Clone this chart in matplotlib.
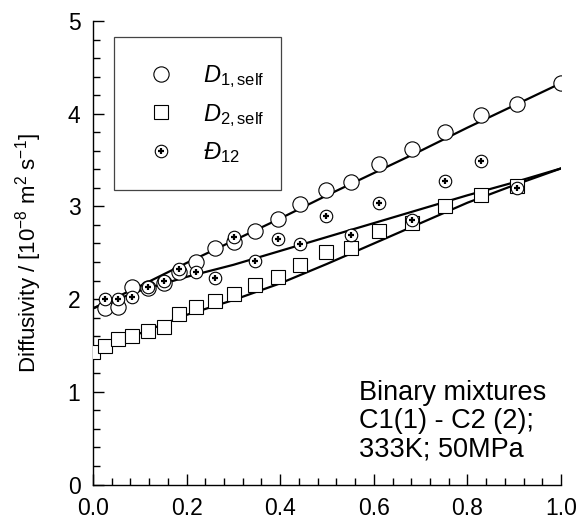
import numpy as np
import matplotlib
matplotlib.use('Agg')
import matplotlib.pyplot as plt
from matplotlib.legend_handler import HandlerTuple
from matplotlib.patches import Rectangle

plt.rcParams['font.family'] = ['Liberation Sans', 'DejaVu Sans']
plt.rcParams['mathtext.fontset'] = 'custom'
plt.rcParams['mathtext.rm'] = 'Liberation Sans'
plt.rcParams['mathtext.it'] = 'Liberation Sans:italic'
plt.rcParams['mathtext.bf'] = 'Liberation Sans:bold'

# mole fraction of component 1
x_all = [0.0, 0.026, 0.053, 0.083, 0.117, 0.151, 0.184, 0.220, 0.261, 0.301,
         0.346, 0.395, 0.443, 0.497, 0.551, 0.612, 0.681, 0.751, 0.829, 0.905, 1.0]

# D1,self (circles), no point at x = 0
x_d1 = x_all[1:]
d1_self = [1.90, 1.91, 2.13, 2.12, 2.17, 2.29, 2.40, 2.55, 2.62, 2.73,
           2.86, 3.03, 3.18, 3.26, 3.46, 3.62, 3.80, 3.99, 4.11, 4.33]

# D2,self (squares), no point at x = 1
x_d2 = x_all[:-1]
d2_self = [1.43, 1.49, 1.57, 1.60, 1.66, 1.70, 1.84, 1.91, 1.98, 2.05,
           2.15, 2.24, 2.37, 2.51, 2.55, 2.73, 2.82, 3.00, 3.12, 3.22]

# MS diffusivity D12 (circle with plus)
x_d12 = x_all[1:-1]
d12 = [2.00, 2.00, 2.02, 2.13, 2.20, 2.33, 2.29, 2.23, 2.67, 2.41,
       2.65, 2.59, 2.90, 2.69, 3.04, 2.85, 3.27, 3.49, 3.20]

# model curves
x_fit = [0.0, 0.1, 0.2, 0.3, 0.4, 0.5, 0.6, 0.7, 0.8, 0.9, 1.0]
d1_fit = [1.90, 2.14, 2.39, 2.63, 2.87, 3.12, 3.36, 3.60, 3.85, 4.09, 4.33]
d2_fit = [1.43, 1.63, 1.83, 1.99, 2.17, 2.38, 2.60, 2.82, 3.04, 3.23, 3.41]
d12_fit = [1.90, 2.09, 2.24, 2.37, 2.52, 2.67, 2.82, 2.97, 3.12, 3.26, 3.41]

fig = plt.figure(figsize=(5.79, 5.23), dpi=100)
ax = fig.add_axes([0.1606, 0.0736, 0.8084, 0.8862])

for yf in (d1_fit, d2_fit, d12_fit):
    ax.plot(x_fit, yf, color='black', lw=1.6, zorder=2)

h1, = ax.plot(x_d1, d1_self, 'o', ms=11, mfc='white', mec='black', mew=0.8, ls='none', zorder=3)
h2, = ax.plot(x_d2, d2_self, 's', ms=10, mfc='white', mec='black', mew=0.8, ls='none', zorder=3)
h3a, = ax.plot(x_d12, d12, 'o', ms=9, mfc='white', mec='black', mew=0.8, ls='none', zorder=4)
h3b, = ax.plot(x_d12, d12, '+', ms=5, mec='black', mew=1.6, ls='none', zorder=5)

# legend box
ax.add_patch(Rectangle((0.045, 0.635), 0.357, 0.3305, transform=ax.transAxes,
                       facecolor='white', edgecolor='#444444', lw=0.9, zorder=6))
leg = ax.legend([h1, h2, (h3a, h3b)],
                [r'$\mathit{D}_{\mathrm{1,self}}$', r'$\mathit{D}_{\mathrm{2,self}}$', r'$\mathit{Đ}_{\mathrm{12}}$'],
                handler_map={tuple: HandlerTuple(ndivide=1, pad=0)},
                loc='upper left', bbox_to_anchor=(0.113, 0.909), borderaxespad=0,
                fontsize=17, frameon=False, borderpad=0,
                labelspacing=0.5, handlelength=1.3, handletextpad=1.11)
leg.set_zorder(7)

ax.text(0.568, 0.225, 'Binary mixtures\nC1(1) - C2 (2);\n333K; 50MPa', transform=ax.transAxes,
        fontsize=19.5, ha='left', va='top', linespacing=1.1)

ax.set_xlim(0, 1.0)
ax.set_ylim(0, 5)
ax.set_xticks(np.arange(0, 1.01, 0.2))
ax.set_xticklabels(['0.0', '0.2', '0.4', '0.6', '0.8', '1.0'])
ax.set_xticks(np.arange(0, 1.001, 0.04), minor=True)
ax.set_yticks(range(0, 6))
ax.set_yticks(np.arange(0, 5.01, 0.2), minor=True)
ax.tick_params(which='both', direction='in', width=1.0, labelsize=16.5)
ax.tick_params(which='major', length=8)
ax.tick_params(which='minor', length=5)
ax.tick_params(axis='x', pad=9)
ax.tick_params(axis='y', pad=9)
ax.spines['top'].set_visible(False)
ax.spines['right'].set_visible(False)
for s in ('left', 'bottom'):
    ax.spines[s].set_linewidth(1.0)

ax.set_ylabel(r'Diffusivity / [10$^{-8}$ m$^{2}$ s$^{-1}$]', fontsize=16)
ax.yaxis.set_label_coords(-0.105, 0.5)

fig.savefig('out.png', dpi=100)
